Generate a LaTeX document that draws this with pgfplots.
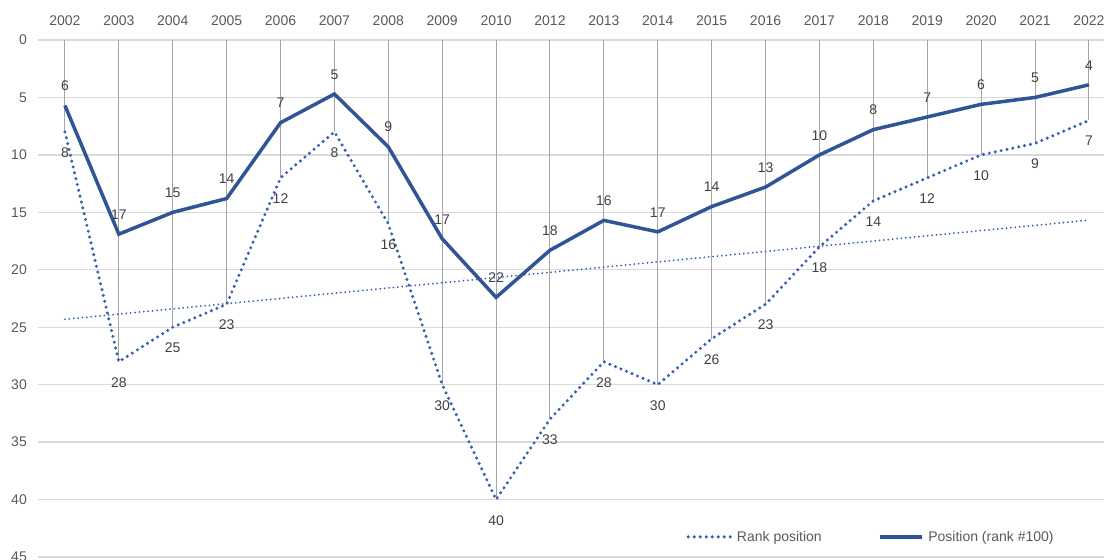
\documentclass[border=0pt]{standalone}
\usepackage{pgfplots}
\pgfplotsset{compat=1.18}
\usepackage{pgfplotstable}
\usepackage{fontspec}
\setmainfont{Liberation Sans}
\definecolor{solidblue}{HTML}{2F5597}
\definecolor{dotblue}{HTML}{3762B0}
\definecolor{gridgray}{HTML}{D9D9D9}
\definecolor{dropgray}{HTML}{A6A6A6}
\definecolor{ticktext}{HTML}{595959}
\definecolor{labeltext}{HTML}{404040}

\pgfplotsset{mylegimg/.style={legend image code/.code={\draw[##1] (0pt,0pt) -- (42pt,0pt);}}}

\pgfplotstableread{
x y l
0 5.7 6
1 16.9 17
2 15.0 15
3 13.8 14
4 7.2 7
5 4.7 5
6 9.3 9
7 17.3 17
8 22.4 22
9 18.3 18
10 15.7 16
11 16.7 17
12 14.5 14
13 12.8 13
14 10.0 10
15 7.8 8
16 6.7 7
17 5.6 6
18 5.0 5
19 3.9 4
}\solidtab

\pgfplotstableread{
x y
0 8
1 28
2 25
3 23
4 12
5 8
6 16
7 30
8 40
9 33
10 28
11 30
12 26
13 23
14 18
15 14
16 12
17 10
18 9
19 7
}\ranktab

\begin{document}
\begin{tikzpicture}
\begin{axis}[
  scale only axis,
  width=1066pt, height=517pt,
  at={(38pt,3pt)}, anchor=south west,
  xmin=-0.5, xmax=19.28,
  ymin=0, ymax=45,
  y dir=reverse,
  ytick={0,5,...,45},
  xtick={0,...,19},
  xticklabels={2002,2003,2004,2005,2006,2007,2008,2009,2010,2012,2013,2014,2015,2016,2017,2018,2019,2020,2021,2022},
  xticklabel pos=upper,
  axis line style={draw=none},
  major tick length=0pt,
  tick style={draw=none},
  ymajorgrids,
  major grid style={gridgray, line width=1.3pt},
  /pgf/number format/assume math mode=true,
  every tick label/.append style={font=\fontsize{14}{16}\selectfont, text=ticktext},
  xticklabel style={anchor=base, inner sep=0pt, yshift=15pt},
  yticklabel style={anchor=east, inner sep=0pt, xshift=-11pt},
  mylegimg,
  legend columns=2,
  legend style={draw=none, fill=none, at={(axis description cs:0.7815,0.039)}, anchor=center,
    font=\fontsize{14}{16}\selectfont, text=ticktext,
    /tikz/every odd column/.append style={column sep=3pt},
    /tikz/every even column/.append style={column sep=54pt}},
  legend cell align=left,
]
% drop lines
\addplot[ycomb, draw=dropgray, line width=1pt, forget plot] table[x=x,y=y]{\ranktab};
% trend line
\addplot[dotblue, line width=2pt, line cap=round, dash pattern=on 0pt off 4.4pt, forget plot]
  coordinates {(0,24.31) (19,15.68)};
% rank position
\addplot[dotblue, line width=3.4pt, line cap=round, dash pattern=on 0pt off 6pt,
  nodes near coords, point meta=explicit symbolic,
  every node near coord/.append style={anchor=north, inner sep=0pt, yshift=-14pt,
    font=\fontsize{14}{16}\selectfont, text=labeltext, solid}]
  table[x=x,y=y,meta=y]{\ranktab};
\addlegendentry{Rank position}
% position rank 100
\addplot[solidblue, line width=3.5pt, line join=miter,
  nodes near coords, point meta=explicit symbolic,
  every node near coord/.append style={anchor=south, inner sep=0pt, yshift=13pt,
    font=\fontsize{14}{16}\selectfont, text=labeltext}]
  table[x=x,y=y,meta=l]{\solidtab};
\addlegendentry{Position (rank \#100)}
\end{axis}
\pgfresetboundingbox
\path[use as bounding box] (0,0) rectangle (1104pt,560pt);
\end{tikzpicture}
\end{document}
